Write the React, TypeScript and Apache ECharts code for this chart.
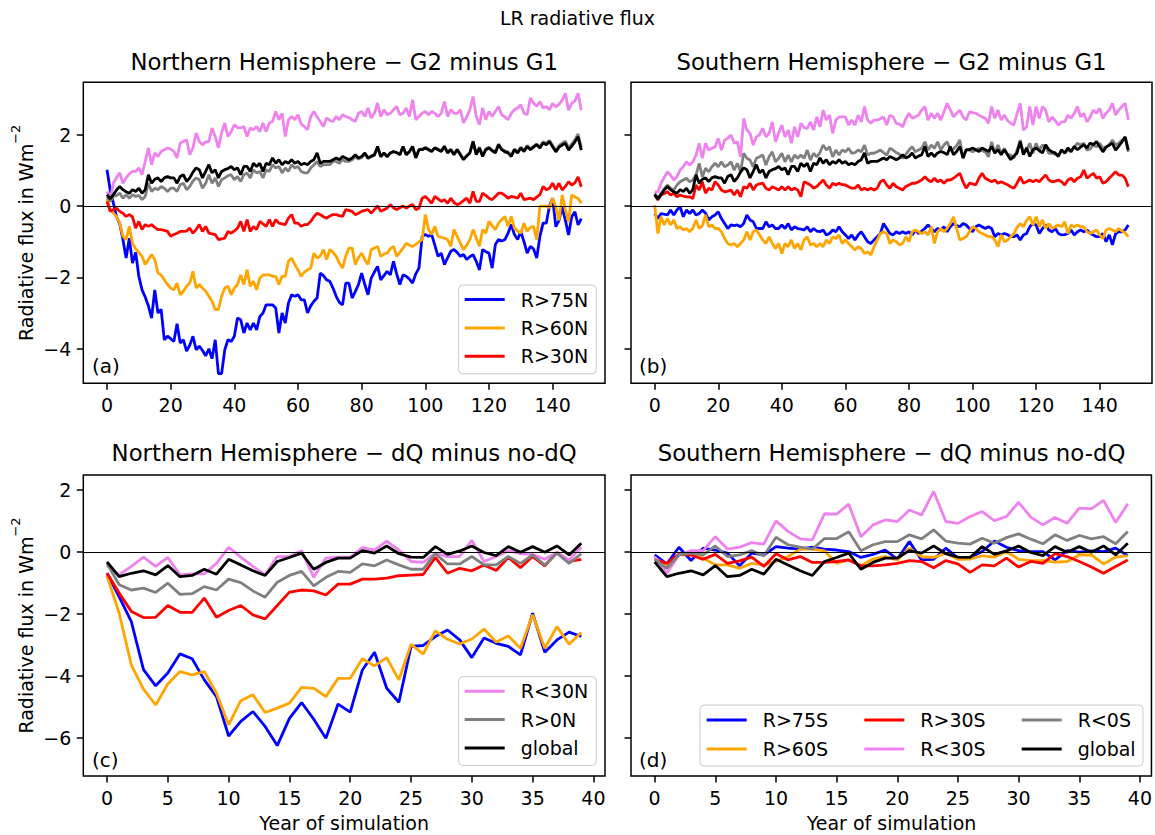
import React, { useEffect, useRef } from "react";
import * as echarts from "echarts";

// ---------------- DATA ----------------
// Panel (a): Northern Hemisphere, G2 minus G1 (years 0..149)
const NH_G_R75 = [
  1.02, 0.45, 0.08, -0.3, -0.5, -0.94, -1.46, -0.9, -1.6, -1.3,
  -1.97, -2.35, -2.55, -2.8, -3.14, -2.35, -3.0, -2.9, -3.75, -3.65,
  -3.72, -3.8, -3.3, -3.84, -3.75, -4.07, -3.9, -3.65, -4.03, -3.93,
  -4.05, -4.2, -4.0, -4.28, -3.75, -4.7, -4.7, -4.03, -3.75, -3.8,
  -3.65, -3.14, -3.19, -3.56, -3.28, -3.47, -3.28, -3.47, -3.1, -3.0,
  -2.77, -2.77, -2.77, -2.86, -3.56, -3.0, -3.28, -2.72, -2.49, -2.53,
  -2.49, -2.63, -2.63, -3.0, -2.8, -2.67, -2.58, -1.88, -1.95, -2.07,
  -2.11, -2.3, -2.53, -2.7, -2.77, -2.16, -2.16, -2.58, -2.4, -2.2,
  -1.88, -2.2, -2.49, -2.02, -1.85, -1.69, -2.07, -1.95, -1.83, -1.93,
  -1.55, -1.9, -2.2, -1.93, -1.97, -2.05, -2.16, -1.9, -1.74, -0.85,
  -0.8, -0.85, -0.8, -1.1, -1.41, -1.32, -1.64, -1.45, -1.27, -1.22,
  -1.3, -1.41, -1.36, -1.5, -1.42, -1.36, -1.55, -1.79, -1.22, -1.28,
  -1.32, -1.74, -1.08, -0.94, -0.98, -0.94, -0.76, -0.52, -0.8, -0.94,
  -0.71, -1.0, -1.32, -1.13, -1.2, -1.46, -0.85, -0.48, -0.48, 0.0,
  0.22, -0.58, -0.4, -0.02, -0.4, -0.81, -0.3, -0.16, -0.53, -0.35,
];
const NH_G_R60 = [
  0.2, -0.1, -0.2, -0.3, -0.48, -0.85, -0.94, -0.57, -1.04, -1.2,
  -1.3, -1.41, -1.64, -1.5, -1.36, -1.5, -1.88, -1.93, -2.07, -2.2,
  -2.3, -2.35, -2.16, -2.49, -2.39, -2.25, -2.16, -1.83, -2.3, -2.2,
  -2.3, -2.39, -2.53, -2.67, -2.9, -2.9, -2.53, -2.3, -2.25, -2.49,
  -2.3, -2.2, -1.93, -2.2, -1.79, -2.25, -2.11, -2.35, -2.02, -1.93,
  -1.93, -1.93, -1.97, -1.97, -2.2, -1.97, -1.97, -1.55, -1.46, -1.64,
  -1.79, -1.97, -1.85, -1.79, -1.74, -1.32, -1.46, -1.4, -1.22, -1.5,
  -1.22, -1.3, -1.41, -1.6, -1.74, -1.4, -1.18, -1.18, -1.64, -1.45,
  -1.32, -1.5, -1.64, -1.22, -1.18, -1.13, -1.41, -1.35, -1.32, -1.2,
  -1.13, -1.41, -1.3, -1.18, -1.04, -1.1, -1.13, -1.08, -1.0, -0.94,
  -0.24, -0.66, -0.8, -0.57, -0.85, -0.88, -0.9, -0.94, -1.13, -0.66,
  -0.85, -1.04, -1.22, -1.1, -0.94, -0.66, -0.9, -1.13, -0.66, -0.76,
  -0.43, -0.55, -0.66, -0.48, -0.38, -0.29, -0.57, -0.29, -0.62, -0.7,
  -0.76, -0.48, -0.71, -0.6, -0.57, -0.94, 0.0, 0.0, 0.0, -0.05,
  0.22, -0.02, -0.4, 0.31, -0.1, -0.44, 0.31, 0.25, 0.22, 0.08,
];
const NH_G_R30 = [
  0.13, -0.15, -0.1, -0.06, -0.15, -0.2, -0.29, -0.24, -0.3, -0.62,
  -0.43, -0.66, -0.52, -0.57, -0.52, -0.6, -0.66, -0.66, -0.68, -0.71,
  -0.85, -0.8, -0.76, -0.71, -0.71, -0.7, -0.62, -0.76, -0.66, -0.52,
  -0.71, -0.57, -0.76, -0.78, -0.8, -0.94, -0.92, -0.9, -0.71, -0.76,
  -0.7, -0.62, -0.43, -0.71, -0.38, -0.71, -0.57, -0.66, -0.43, -0.5,
  -0.57, -0.38, -0.57, -0.38, -0.48, -0.5, -0.52, -0.34, -0.24, -0.48,
  -0.48, -0.57, -0.52, -0.52, -0.43, -0.3, -0.2, -0.24, -0.3, -0.34,
  -0.28, -0.24, -0.24, -0.27, -0.29, -0.1, -0.12, -0.15, -0.24, -0.2,
  -0.15, -0.12, -0.1, -0.2, -0.1, 0.0, -0.15, -0.1, -0.06, 0.04,
  -0.05, -0.1, -0.05, 0.0, -0.06, 0.0, 0.04, -0.1, -0.06, 0.22,
  0.27, 0.18, 0.08, 0.27, 0.2, 0.13, 0.18, 0.08, 0.22, 0.1,
  0.04, 0.08, 0.15, 0.22, 0.08, 0.41, 0.13, 0.13, 0.36, 0.3,
  0.22, 0.18, 0.27, 0.36, 0.36, 0.3, 0.22, 0.27, 0.25, 0.22,
  0.36, 0.18, 0.2, 0.22, 0.18, 0.25, 0.32, 0.55, 0.46, 0.5,
  0.64, 0.46, 0.64, 0.45, 0.55, 0.68, 0.59, 0.65, 0.82, 0.54,
];
const NH_G_RL30 = [
  0.41, 0.18, 0.64, 0.8, 0.93, 0.64, 0.79, 0.9, 0.97, 0.97,
  1.07, 0.88, 1.25, 1.63, 1.16, 1.49, 1.39, 1.53, 1.58, 1.63,
  1.6, 1.53, 1.35, 1.77, 1.81, 1.86, 1.44, 1.63, 2.05, 1.81,
  1.72, 1.8, 1.81, 2.19, 1.95, 1.63, 2.05, 2.33, 1.95, 2.09,
  2.28, 2.2, 2.19, 2.23, 1.95, 2.19, 2.14, 2.23, 2.09, 2.33,
  2.09, 2.33, 2.37, 2.65, 2.42, 2.6, 1.95, 2.42, 2.51, 2.42,
  2.56, 2.3, 2.23, 2.14, 2.51, 2.65, 2.5, 2.37, 2.23, 2.47,
  2.4, 2.37, 2.51, 2.42, 2.56, 2.51, 2.48, 2.42, 2.37, 2.6,
  2.65, 2.51, 2.75, 2.47, 2.6, 2.89, 2.51, 2.7, 2.56, 2.6,
  2.7, 2.79, 2.56, 2.6, 2.75, 2.51, 2.98, 2.42, 2.51, 2.6,
  2.65, 2.56, 2.65, 2.6, 2.51, 2.6, 2.93, 2.51, 2.7, 2.6,
  2.6, 2.7, 2.33, 2.5, 2.7, 3.07, 2.51, 2.28, 2.75, 2.42,
  2.65, 2.51, 2.65, 2.79, 2.56, 2.5, 2.42, 2.6, 2.7, 2.75,
  2.84, 2.6, 2.56, 3.03, 2.89, 2.8, 2.93, 2.75, 2.79, 2.7,
  2.88, 2.78, 2.85, 2.97, 3.16, 2.69, 2.88, 2.95, 3.16, 2.69,
];
const NH_G_R0 = [
  0.27, 0.13, 0.27, 0.3, 0.36, 0.22, 0.32, 0.22, 0.32, 0.27,
  0.3, 0.18, 0.27, 0.64, 0.41, 0.5, 0.46, 0.55, 0.5, 0.41,
  0.5, 0.5, 0.41, 0.6, 0.64, 0.46, 0.55, 0.7, 0.79, 0.74,
  0.5, 0.64, 0.88, 0.64, 0.79, 0.55, 0.74, 0.79, 0.85, 0.88,
  0.74, 0.83, 0.69, 0.88, 0.93, 0.79, 1.02, 0.93, 0.97, 0.79,
  1.02, 0.97, 1.16, 1.07, 1.11, 0.93, 1.07, 0.97, 1.16, 1.07,
  1.11, 0.97, 0.93, 0.93, 1.07, 1.15, 1.25, 1.11, 1.16, 1.16,
  1.16, 1.25, 1.25, 1.2, 1.3, 1.25, 1.25, 1.3, 1.38, 1.32,
  1.36, 1.46, 1.33, 1.38, 1.42, 1.64, 1.38, 1.47, 1.38, 1.48,
  1.52, 1.5, 1.44, 1.66, 1.44, 1.52, 1.66, 1.36, 1.58, 1.6,
  1.64, 1.6, 1.54, 1.64, 1.6, 1.55, 1.68, 1.5, 1.6, 1.46,
  1.6, 1.46, 1.32, 1.42, 1.5, 1.82, 1.46, 1.65, 1.42, 1.6,
  1.65, 1.57, 1.52, 1.74, 1.6, 1.55, 1.52, 1.42, 1.6, 1.52,
  1.65, 1.56, 1.7, 1.6, 1.68, 1.74, 1.66, 1.8, 1.76, 1.84,
  1.7, 1.56, 1.7, 1.76, 1.82, 1.63, 1.74, 1.86, 2.02, 1.64,
];
const GLOBAL_G = [
  0.32, 0.2, 0.32, 0.45, 0.55, 0.46, 0.4, 0.36, 0.46, 0.41,
  0.5, 0.36, 0.46, 0.88, 0.64, 0.75, 0.79, 0.69, 0.79, 0.83,
  0.79, 0.79, 0.64, 0.83, 0.88, 0.69, 0.79, 0.95, 1.07, 1.02,
  0.79, 0.97, 1.16, 0.93, 1.02, 0.79, 0.97, 1.02, 1.05, 1.11,
  1.02, 1.07, 0.88, 1.11, 1.11, 0.97, 1.2, 1.11, 1.2, 0.97,
  1.2, 1.16, 1.35, 1.2, 1.3, 1.16, 1.25, 1.2, 1.3, 1.2,
  1.25, 1.16, 1.2, 1.16, 1.25, 1.3, 1.49, 1.2, 1.25, 1.25,
  1.25, 1.3, 1.35, 1.3, 1.39, 1.35, 1.3, 1.35, 1.44, 1.35,
  1.39, 1.49, 1.35, 1.4, 1.44, 1.67, 1.39, 1.49, 1.39, 1.49,
  1.53, 1.5, 1.44, 1.67, 1.44, 1.53, 1.67, 1.35, 1.58, 1.58,
  1.63, 1.58, 1.53, 1.63, 1.58, 1.53, 1.67, 1.49, 1.58, 1.44,
  1.58, 1.44, 1.3, 1.4, 1.49, 1.81, 1.44, 1.63, 1.39, 1.58,
  1.63, 1.55, 1.49, 1.72, 1.58, 1.52, 1.49, 1.39, 1.58, 1.49,
  1.63, 1.53, 1.67, 1.58, 1.65, 1.72, 1.63, 1.77, 1.72, 1.81,
  1.66, 1.52, 1.65, 1.71, 1.76, 1.57, 1.68, 1.8, 1.94, 1.57,
];
// Panel (b): Southern Hemisphere, G2 minus G1
const SH_G_R75 = [
  -0.21, -0.35, -0.21, -0.23, -0.25, -0.11, -0.25, -0.11, -0.02, -0.3,
  -0.11, -0.21, -0.11, -0.25, -0.21, -0.11, -0.2, -0.39, -0.3, -0.25,
  -0.16, -0.35, -0.49, -0.63, -0.53, -0.55, -0.53, -0.58, -0.49, -0.25,
  -0.39, -0.44, -0.63, -0.63, -0.63, -0.44, -0.58, -0.53, -0.63, -0.63,
  -0.53, -0.63, -0.49, -0.67, -0.58, -0.63, -0.65, -0.67, -0.58, -0.72,
  -0.63, -0.7, -0.72, -0.67, -0.81, -0.77, -0.67, -0.72, -0.58, -0.72,
  -0.81, -0.91, -0.81, -0.95, -0.81, -0.72, -0.86, -1.0, -1.05, -0.95,
  -0.86, -0.77, -0.49, -0.63, -0.77, -0.81, -0.72, -0.77, -0.72, -0.77,
  -0.72, -0.81, -0.67, -0.77, -0.7, -0.63, -0.53, -0.63, -0.72, -0.63,
  -0.67, -0.58, -0.72, -0.58, -0.49, -0.55, -0.58, -0.49, -0.53, -0.63,
  -0.72, -0.58, -0.53, -0.58, -0.63, -0.58, -0.63, -0.86, -0.77, -0.81,
  -0.77, -0.8, -0.86, -0.86, -0.81, -0.95, -0.81, -0.77, -0.58, -0.49,
  -0.53, -0.77, -0.63, -0.53, -0.67, -0.72, -0.63, -0.77, -0.81, -0.8,
  -0.77, -0.67, -0.81, -0.72, -0.67, -0.72, -0.67, -0.77, -0.81, -0.86,
  -0.86, -0.77, -1.0, -0.81, -1.09, -0.77, -0.72, -0.72, -0.67, -0.53,
];
const SH_G_R60 = [
  0.03, -0.77, -0.3, -0.53, -0.35, -0.53, -0.39, -0.63, -0.58, -0.67,
  -0.63, -0.72, -0.63, -0.39, -0.63, -0.55, -0.25, -0.58, -0.53, -0.63,
  -0.63, -0.72, -0.91, -1.05, -1.09, -1.05, -1.14, -1.05, -0.95, -0.72,
  -0.95, -0.72, -0.67, -0.81, -0.95, -1.05, -0.86, -1.05, -1.19, -1.05,
  -1.33, -1.05, -1.14, -0.95, -1.19, -1.05, -1.23, -0.95, -0.86, -1.09,
  -1.05, -1.14, -1.05, -1.14, -0.95, -1.05, -0.86, -0.91, -0.81, -1.05,
  -0.95, -1.05, -1.14, -1.23, -1.14, -1.19, -1.33, -1.28, -1.37, -1.14,
  -0.95, -0.77, -0.72, -0.77, -1.05, -0.95, -1.0, -1.09, -1.05, -0.86,
  -1.0, -0.72, -0.67, -0.72, -0.77, -0.72, -0.81, -0.58, -1.05, -0.72,
  -0.63, -0.72, -0.63, -0.49, -0.3, -0.63, -0.95, -0.91, -0.86, -0.72,
  -0.58, -0.63, -0.72, -0.77, -0.81, -0.86, -0.86, -0.95, -1.14, -0.81,
  -1.0, -0.95, -0.86, -0.77, -0.6, -0.49, -0.58, -0.4, -0.3, -0.53,
  -0.3, -0.58, -0.39, -0.63, -0.49, -0.63, -0.58, -0.53, -0.58, -0.44,
  -0.77, -0.53, -0.58, -0.53, -0.58, -0.58, -0.72, -0.77, -0.72, -0.67,
  -0.81, -0.91, -0.67, -0.63, -0.67, -0.72, -0.63, -0.7, -0.75, -0.86,
];
const SH_G_R30 = [
  0.31, 0.17, 0.31, 0.35, 0.4, 0.31, 0.36, 0.26, 0.31, 0.28,
  0.26, 0.26, 0.21, 0.59, 0.45, 0.68, 0.36, 0.5, 0.45, 0.68,
  0.59, 0.45, 0.4, 0.42, 0.45, 0.31, 0.45, 0.26, 0.54, 0.5,
  0.64, 0.45, 0.59, 0.62, 0.64, 0.5, 0.45, 0.54, 0.5, 0.45,
  0.54, 0.45, 0.54, 0.45, 0.5, 0.45, 0.26, 0.68, 0.64, 0.59,
  0.5, 0.55, 0.64, 0.73, 0.59, 0.5, 0.64, 0.59, 0.64, 0.6,
  0.59, 0.54, 0.5, 0.5, 0.59, 0.45, 0.5, 0.45, 0.5, 0.45,
  0.5, 0.68, 0.73, 0.59, 0.5, 0.64, 0.54, 0.5, 0.45, 0.55,
  0.59, 0.64, 0.64, 0.68, 0.73, 0.82, 0.73, 0.68, 0.78, 0.68,
  0.73, 0.64, 0.73, 0.73, 0.78, 0.85, 0.92, 0.68, 0.5, 0.64,
  0.62, 0.59, 0.78, 0.92, 0.78, 0.73, 0.68, 0.73, 0.64, 0.68,
  0.64, 0.6, 0.54, 0.5, 0.64, 0.82, 0.64, 0.68, 0.73, 0.68,
  0.73, 0.68, 0.78, 0.87, 0.73, 0.68, 0.7, 0.73, 0.68, 0.59,
  0.73, 0.78, 0.68, 0.78, 0.82, 1.01, 0.78, 0.85, 0.92, 0.78,
  0.82, 0.64, 0.68, 0.78, 0.87, 0.96, 0.87, 0.87, 0.78, 0.54,
];
const SH_G_RL30 = [
  0.4, 0.4, 0.64, 0.8, 0.96, 0.87, 0.73, 0.82, 1.01, 1.1,
  1.24, 1.15, 1.24, 1.43, 1.76, 1.34, 1.76, 1.57, 1.62, 1.66,
  1.9, 1.57, 1.85, 1.9, 1.99, 1.76, 1.8, 1.38, 2.46, 2.13,
  2.04, 1.71, 1.94, 2.0, 2.18, 1.94, 2.04, 2.36, 1.8, 2.04,
  2.27, 1.94, 2.13, 1.76, 2.22, 1.94, 2.32, 2.2, 2.18, 2.36,
  2.13, 2.5, 2.22, 2.69, 2.41, 2.55, 2.04, 2.41, 2.5, 2.5,
  2.5, 2.27, 2.41, 2.27, 2.55, 2.36, 2.79, 2.41, 2.32, 2.41,
  2.41, 2.45, 2.5, 2.27, 2.55, 2.5, 2.32, 2.3, 2.22, 2.45,
  2.6, 2.46, 2.5, 2.55, 2.69, 2.79, 2.41, 2.6, 2.46, 2.6,
  2.41, 2.64, 2.88, 2.7, 2.5, 2.6, 2.69, 2.5, 2.41, 2.64,
  2.62, 2.6, 2.55, 2.5, 2.46, 2.32, 2.79, 2.46, 2.69, 2.41,
  2.55, 2.4, 2.32, 2.27, 2.6, 2.88, 2.13, 2.22, 2.79, 2.27,
  2.79, 2.46, 2.79, 2.69, 2.36, 2.5, 2.4, 2.27, 2.36, 2.36,
  2.55, 2.46, 2.6, 2.79, 2.5, 2.6, 2.36, 2.5, 2.69, 2.6,
  2.74, 2.46, 2.6, 2.69, 2.88, 2.55, 2.69, 2.79, 2.88, 2.41,
];
const SH_G_R0 = [
  0.36, 0.21, 0.36, 0.48, 0.59, 0.5, 0.45, 0.59, 0.68, 0.73,
  0.78, 0.68, 0.73, 0.87, 1.2, 0.82, 1.06, 0.96, 1.1, 1.2,
  1.1, 1.24, 1.1, 1.15, 1.24, 1.01, 1.2, 0.96, 1.48, 1.34,
  1.29, 1.1, 1.34, 1.38, 1.43, 1.15, 1.38, 1.52, 1.24, 1.34,
  1.48, 1.24, 1.43, 1.24, 1.43, 1.34, 1.43, 1.34, 1.57, 1.29,
  1.48, 1.38, 1.5, 1.71, 1.57, 1.66, 1.38, 1.57, 1.43, 1.57,
  1.52, 1.62, 1.48, 1.5, 1.57, 1.52, 1.71, 1.43, 1.48, 1.48,
  1.52, 1.57, 1.5, 1.43, 1.62, 1.57, 1.5, 1.45, 1.34, 1.45,
  1.57, 1.66, 1.52, 1.57, 1.62, 1.8, 1.57, 1.71, 1.62, 1.8,
  1.57, 1.71, 1.8, 1.57, 1.6, 1.7, 1.85, 1.34, 1.57, 1.57,
  1.52, 1.57, 1.62, 1.55, 1.52, 1.38, 1.8, 1.48, 1.71, 1.48,
  1.62, 1.45, 1.43, 1.34, 1.57, 1.85, 1.48, 1.57, 1.76, 1.48,
  1.76, 1.57, 1.71, 1.66, 1.48, 1.48, 1.45, 1.43, 1.55, 1.48,
  1.57, 1.52, 1.66, 1.76, 1.71, 1.76, 1.57, 1.6, 1.71, 1.66,
  1.76, 1.62, 1.66, 1.71, 1.85, 1.71, 1.76, 1.85, 1.9, 1.52,
];
// Panels (c) and (d): dQ minus no-dQ (years 0..39)
const NH_DQ_R75 = [
  -0.69, -1.45, -2.25, -3.8, -4.32, -3.91, -3.29, -3.45, -4.13, -4.67,
  -5.94, -5.47, -5.15, -5.63, -6.25, -5.37, -4.86, -5.4, -6.01, -4.91,
  -5.17, -3.81, -3.24, -4.4, -4.85, -3.05, -3.02, -2.73, -2.52, -2.84,
  -3.41, -2.78, -2.95, -3.05, -3.32, -1.98, -3.24, -2.84, -2.59, -2.73,
];
const NH_DQ_R60 = [
  -0.77, -1.98, -3.65, -4.43, -4.94, -4.26, -3.86, -3.97, -3.86, -4.56,
  -5.58, -4.8, -4.61, -5.18, -5.04, -4.88, -4.37, -4.4, -4.67, -4.08,
  -4.08, -3.45, -3.68, -3.41, -4.13, -2.98, -3.3, -2.55, -2.82, -2.97,
  -2.81, -2.49, -2.91, -2.71, -3.11, -2.03, -3.11, -2.41, -2.98, -2.6,
];
const NH_DQ_R30 = [
  -0.69, -1.33, -1.92, -2.12, -2.11, -1.73, -1.95, -1.95, -1.49, -2.11,
  -1.89, -1.73, -2.03, -2.16, -1.73, -1.3, -1.23, -1.26, -1.39, -1.04,
  -1.04, -0.88, -0.88, -0.85, -0.77, -0.75, -0.73, -0.18, -0.69, -0.53,
  -0.61, -0.42, -0.6, -0.18, -0.51, -0.15, -0.45, -0.02, -0.31, -0.24,
];
const NH_DQ_RL30 = [
  -0.45, -0.74, -0.47, -0.17, -0.47, -0.18, -0.74, -0.71, -0.71, -0.37,
  0.15, -0.17, -0.47, -0.74, -0.15, -0.15, 0.04, -0.82, -0.2, -0.17,
  -0.17, 0.14, 0.06, 0.35, 0.06, -0.31, -0.34, -0.04, -0.15, -0.15,
  0.37, -0.31, -0.15, 0.04, -0.06, -0.08, -0.24, -0.02, -0.26, 0.15,
];
const NH_DQ_R0 = [
  -0.37, -1.06, -1.23, -1.17, -1.31, -1.01, -1.37, -1.35, -1.12, -1.23,
  -0.88, -0.99, -1.26, -1.46, -0.98, -0.76, -0.63, -1.1, -0.82, -0.63,
  -0.66, -0.39, -0.45, -0.26, -0.42, -0.56, -0.56, -0.06, -0.39, -0.39,
  -0.15, -0.42, -0.42, -0.15, -0.37, -0.1, -0.42, -0.04, -0.37, -0.06,
];
const GLOBAL_DQ = [
  -0.32, -0.8, -0.69, -0.61, -0.74, -0.44, -0.8, -0.76, -0.56, -0.72,
  -0.24, -0.42, -0.61, -0.76, -0.31, -0.18, -0.04, -0.56, -0.34, -0.2,
  -0.2, 0.04, -0.04, 0.19, -0.06, -0.17, -0.18, 0.17, -0.08, 0.03,
  0.19, -0.02, -0.12, 0.17, -0.01, 0.17, -0.01, 0.19, -0.1, 0.28,
];
const SH_DQ_R75 = [
  -0.1, -0.39, 0.15, -0.28, 0.12, 0.06, -0.04, -0.45, -0.04, -0.1,
  0.17, 0.12, 0.09, 0.15, 0.09, 0.06, 0.01, -0.18, -0.08, 0.06,
  -0.23, 0.33, -0.26, -0.24, 0.12, -0.2, -0.18, 0.01, 0.35, 0.15,
  0.04, 0.01, 0.01, -0.26, 0.04, -0.01, 0.03, 0.01, 0.12, -0.12,
];
const SH_DQ_R60 = [
  -0.2, -0.42, -0.08, -0.08, -0.2, -0.42, -0.42, -0.53, -0.37, -0.42,
  -0.31, -0.15, 0.09, 0.09, 0.03, -0.37, -0.26, -0.45, -0.23, -0.15,
  -0.26, 0.12, -0.15, -0.18, -0.04, -0.24, -0.23, -0.13, -0.17, 0.01,
  -0.24, -0.28, -0.28, -0.33, -0.31, -0.1, -0.1, -0.39, -0.17, -0.13,
];
const SH_DQ_R30 = [
  -0.24, -0.37, -0.08, -0.1, -0.24, -0.08, -0.37, -0.29, -0.17, -0.47,
  -0.06, -0.26, -0.15, -0.34, -0.34, -0.31, -0.26, -0.45, -0.45, -0.42,
  -0.37, -0.28, -0.31, -0.51, -0.28, -0.39, -0.66, -0.42, -0.45, -0.2,
  -0.49, -0.31, -0.37, -0.06, -0.15, -0.31, -0.49, -0.69, -0.47, -0.26,
];
const SH_DQ_RL30 = [
  -0.15, -0.69, -0.1, 0.04, 0.04, 0.49, 0.09, 0.15, 0.3, 0.25,
  1.0, 0.66, 0.42, 0.39, 1.23, 1.22, 1.54, 0.49, 0.87, 1.03,
  0.98, 1.35, 1.19, 1.95, 0.98, 0.92, 1.14, 1.3, 1.01, 1.14,
  1.6, 1.12, 0.87, 1.11, 0.92, 1.41, 1.39, 1.66, 0.95, 1.55,
];
const SH_DQ_R0 = [
  -0.24, -0.53, -0.1, -0.04, -0.1, 0.19, -0.15, -0.1, 0.04, -0.13,
  0.47, 0.23, 0.15, 0.09, 0.43, 0.43, 0.65, 0.04, 0.23, 0.33,
  0.33, 0.55, 0.42, 0.71, 0.35, 0.28, 0.25, 0.44, 0.28, 0.46,
  0.58, 0.41, 0.26, 0.55, 0.37, 0.53, 0.42, 0.49, 0.26, 0.66,
];

// Tick labels / names
const XTICKS_G = [0, 20, 40, 60, 80, 100, 120, 140];
const XTICKS_DQ = [0, 5, 10, 15, 20, 25, 30, 35, 40];
const YTICKS_G = [-4, -2, 0, 2];
const YTICKS_DQ = [-6, -4, -2, 0, 2];
const NAMES_N = ["R>75N", "R>60N", "R>30N", "R<30N", "R>0N", "global"];
const NAMES_S = ["R>75S", "R>60S", "R>30S", "R<30S", "R<0S", "global"];
const COLORS = ["#0000ff", "#ffa500", "#ff0000", "#ee82ee", "#808080", "#000000"];
const SUPTITLE = "LR radiative flux";
const TITLES = [
  "Northern Hemisphere \u2212 G2 minus G1",
  "Southern Hemisphere \u2212 G2 minus G1",
  "Northern Hemisphere \u2212 dQ minus no-dQ",
  "Southern Hemisphere \u2212 dQ minus no-dQ",
];
const PANEL_LABELS = ["(a)", "(b)", "(c)", "(d)"];

// ---------------- LAYOUT ----------------
const FONT = "DejaVu Sans";
const LW = 2.8;
const GRIDS = [
  { left: 83.3, top: 82.3, width: 521.7, height: 301 },
  { left: 631, top: 82.3, width: 521, height: 301 },
  { left: 83.3, top: 475, width: 521.7, height: 301 },
  { left: 631, top: 475, width: 521, height: 301 },
];

const fmt = (v: number) => (v < 0 ? "\u2212" + String(-v) : String(v));

function buildOption() {
  const panelData = [
    [NH_G_R75, NH_G_R60, NH_G_R30, NH_G_RL30, NH_G_R0, GLOBAL_G],
    [SH_G_R75, SH_G_R60, SH_G_R30, SH_G_RL30, SH_G_R0, GLOBAL_G],
    [NH_DQ_R75, NH_DQ_R60, NH_DQ_R30, NH_DQ_RL30, NH_DQ_R0, GLOBAL_DQ],
    [SH_DQ_R75, SH_DQ_R60, SH_DQ_R30, SH_DQ_RL30, SH_DQ_R0, GLOBAL_DQ],
  ];
  const names = [NAMES_N, NAMES_S, NAMES_N, NAMES_S];

  const grid = GRIDS.map((g) => ({
    ...g,
    show: true,
    borderColor: "#000",
    borderWidth: 1.5,
    backgroundColor: "transparent",
    containLabel: false,
  }));

  const xAxis = GRIDS.map((_, i) => {
    const top = i < 2;
    const ticks = top ? XTICKS_G : XTICKS_DQ;
    return {
      type: "value",
      gridIndex: i,
      min: top ? -7.45 : -1.95,
      max: top ? 156.45 : 40.95,
      axisLine: { show: false, onZero: false },
      splitLine: { show: false },
      axisTick: {
        show: true,
        customValues: ticks,
        length: 6.5,
        inside: false,
        lineStyle: { color: "#000", width: 1.5 },
      },
      axisLabel: {
        show: true,
        customValues: ticks,
        formatter: fmt,
        margin: 12,
        color: "#000",
        fontSize: 19,
        fontFamily: FONT,
      },
    };
  });

  const yAxis = GRIDS.map((_, i) => {
    const top = i < 2;
    const ticks = top ? YTICKS_G : YTICKS_DQ;
    return {
      type: "value",
      gridIndex: i,
      min: top ? -4.97 : -7.23,
      max: top ? 3.47 : 2.48,
      axisLine: { show: false, onZero: false },
      splitLine: { show: false },
      axisTick: {
        show: true,
        customValues: ticks,
        length: 6.5,
        inside: false,
        lineStyle: { color: "#000", width: 1.5 },
      },
      axisLabel: {
        show: i % 2 === 0,
        customValues: ticks,
        formatter: fmt,
        margin: 12,
        color: "#000",
        fontSize: 19,
        fontFamily: FONT,
      },
    };
  });

  const series: any[] = [];
  panelData.forEach((arrs, p) => {
    arrs.forEach((arr, k) => {
      series.push({
        type: "line",
        name: names[p][k],
        xAxisIndex: p,
        yAxisIndex: p,
        data: arr.map((v, i) => [i, v]),
        showSymbol: false,
        symbol: "none",
        silent: true,
        clip: true,
        lineStyle: { color: COLORS[k], width: LW },
        itemStyle: { color: COLORS[k] },
        markLine:
          k === 0
            ? {
                silent: true,
                symbol: ["none", "none"],
                label: { show: false },
                lineStyle: { color: "#000", width: 1, type: "solid" },
                data: [{ yAxis: 0 }],
              }
            : undefined,
      });
    });
  });

  const legendText = {
    color: "#000",
    fontSize: 19,
    fontFamily: FONT,
    lineHeight: 19,
    padding: [0, 0, 0, 11],
  };
  const common = {
    orient: "vertical",
    selectedMode: false,
    icon: "rect",
    itemWidth: 40,
    itemHeight: 3,
    textStyle: legendText,
  };
  const boxed = {
    ...common,
    itemGap: 9.4,
    backgroundColor: "rgba(255,255,255,0.8)",
    borderColor: "#cccccc",
    borderWidth: 1,
    borderRadius: 4,
    padding: [5, 8, 8, 6],
  };
  const plain = { ...common, itemGap: 10, padding: 0 };
  const legend = [
    { ...boxed, left: 458.7, top: 285, data: NAMES_N.slice(0, 3) },
    { ...boxed, left: 458.7, top: 676.7, data: NAMES_N.slice(3, 6) },
    { ...plain, left: 706.7, top: 710.5, data: NAMES_S.slice(0, 2) },
    { ...plain, left: 864.3, top: 710.5, data: NAMES_S.slice(2, 4) },
    { ...plain, left: 1021.7, top: 710.5, data: NAMES_S.slice(4, 6) },
  ];

  const txt = (text: string, x: number, y: number, size: number, align = "center") => ({
    type: "text",
    x,
    y,
    silent: true,
    style: {
      text,
      fill: "#000",
      fontSize: size,
      fontFamily: FONT,
      align,
      verticalAlign: "middle",
      textAlign: align,
      textVerticalAlign: "middle",
    },
  });

  const ylabel = (y: number) => ({
    type: "text",
    x: 22,
    y,
    rotation: Math.PI / 2,
    silent: true,
    style: {
      text: "{m|Radiative flux in Wm}{s|\u22122}",
      fill: "#000",
      align: "center",
      verticalAlign: "middle",
      textAlign: "center",
      textVerticalAlign: "middle",
      rich: {
        m: { fontSize: 19, fontFamily: FONT, lineHeight: 26, verticalAlign: "bottom", fill: "#000" },
        s: { fontSize: 13, fontFamily: FONT, lineHeight: 14, verticalAlign: "top", fill: "#000" },
      },
    },
  });

  const graphic: any[] = [
    {
      type: "rect",
      silent: true,
      z: 3,
      shape: { x: 700, y: 705, width: 443, height: 61, r: 4 },
      style: { fill: "rgba(255,255,255,0.8)", stroke: "#cccccc", lineWidth: 1 },
    },
    txt(SUPTITLE, 577.5, 18, 19),
    txt(TITLES[0], 344.2, 62, 22.8),
    txt(TITLES[1], 891.5, 62, 22.8),
    txt(TITLES[2], 344.2, 453, 22.8),
    txt(TITLES[3], 891.5, 453, 22.8),
    txt(PANEL_LABELS[0], 92, 366, 20, "left"),
    txt(PANEL_LABELS[1], 639, 366, 20, "left"),
    txt(PANEL_LABELS[2], 92, 760, 20, "left"),
    txt(PANEL_LABELS[3], 639, 760, 20, "left"),
    txt("Year of simulation", 344.2, 823, 19),
    txt("Year of simulation", 891.5, 823, 19),
    ylabel(232.8),
    ylabel(625.5),
  ];

  return {
    animation: false,
    backgroundColor: "#ffffff",
    textStyle: { fontFamily: FONT },
    grid,
    xAxis,
    yAxis,
    series,
    legend,
    graphic,
  };
}

export default function App() {
  const ref = useRef<HTMLDivElement>(null);
  useEffect(() => {
    if (!ref.current) return;
    const chart = echarts.init(ref.current, undefined, { renderer: "svg" });
    chart.setOption(buildOption() as any);
    return () => chart.dispose();
  }, []);
  return (
    <div
      ref={ref}
      style={{ position: "absolute", left: 0, top: 0, width: 1155, height: 835, background: "#fff" }}
    />
  );
}
